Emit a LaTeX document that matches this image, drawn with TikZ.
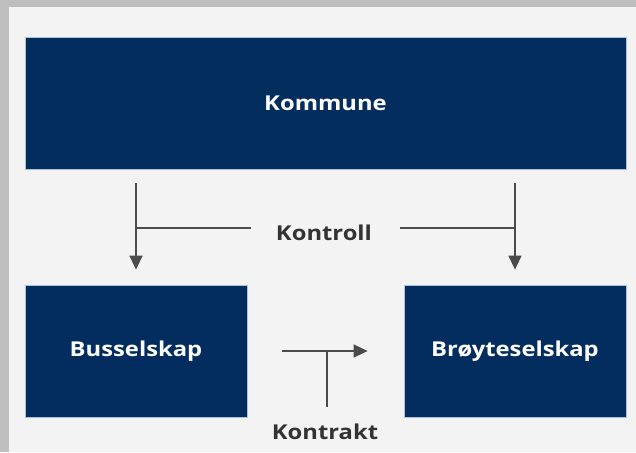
\documentclass[tikz,border=0pt]{standalone}
\usepackage{fontspec}
\setmainfont{Open Sans}
\newfontfamily\widefont[FakeStretch=1.16]{Open Sans}
\usetikzlibrary{arrows.meta}
\definecolor{navy}{RGB}{3,45,94}
\definecolor{edgeblue}{RGB}{170,195,220}
\definecolor{bgout}{RGB}{190,190,190}
\definecolor{bgin}{RGB}{243,243,244}
\definecolor{ink}{RGB}{51,51,51}
\definecolor{linegrey}{RGB}{75,75,75}
\begin{document}
\begin{tikzpicture}[x=1pt,y=-1pt,
  boxnode/.style={rectangle, fill=navy, draw=edgeblue, line width=0.8pt, text=white,
    font=\widefont\fontsize{20.5}{24}\selectfont\bfseries, inner sep=0pt, minimum height=132pt},
  lbl/.style={text=ink, font=\widefont\fontsize{20.5}{24}\selectfont\bfseries, inner sep=0pt},
  conn/.style={draw=linegrey, line width=1.5pt},
  arr/.style={conn, -{Triangle[length=14pt,width=13pt]}}]
\fill[bgout] (0,0) rectangle (636,452);
\fill[bgin] (9,7) rectangle (636,452);
\useasboundingbox (0,0) rectangle (636,452);
\node[boxnode, minimum width=601pt] (kom) at (325.5,103) {Kommune};
\node[boxnode, minimum width=222pt] (bus) at (136,351) {Busselskap};
\node[boxnode, minimum width=222pt] (broy) at (515,351) {Brøyteselskap};
\node[lbl] (kontroll) at (324,233) {Kontroll};
\node[lbl] (kontrakt) at (325,432) {Kontrakt};
% Kontroll arrows
\draw[arr, shorten <=14pt, shorten >=15pt] (kom.south -| bus.north) -- (bus.north);
\draw[arr, shorten <=14pt, shorten >=15pt] (kom.south -| broy.north) -- (broy.north);
\draw[conn] ([yshift=5pt]kontroll.west -| bus.north) -- ([xshift=-25pt,yshift=5pt]kontroll.west);
\draw[conn] ([xshift=28pt,yshift=5pt]kontroll.east) -- ([yshift=5pt]kontroll.east -| broy.north);
% Kontrakt arrow
\draw[arr, shorten <=35pt, shorten >=36pt] (bus.east) -- (broy.west);
\draw[conn] ([xshift=2pt,yshift=17pt]kontrakt.north) -- ([xshift=2pt]kontrakt.north |- bus.east);
\end{tikzpicture}
\end{document}
